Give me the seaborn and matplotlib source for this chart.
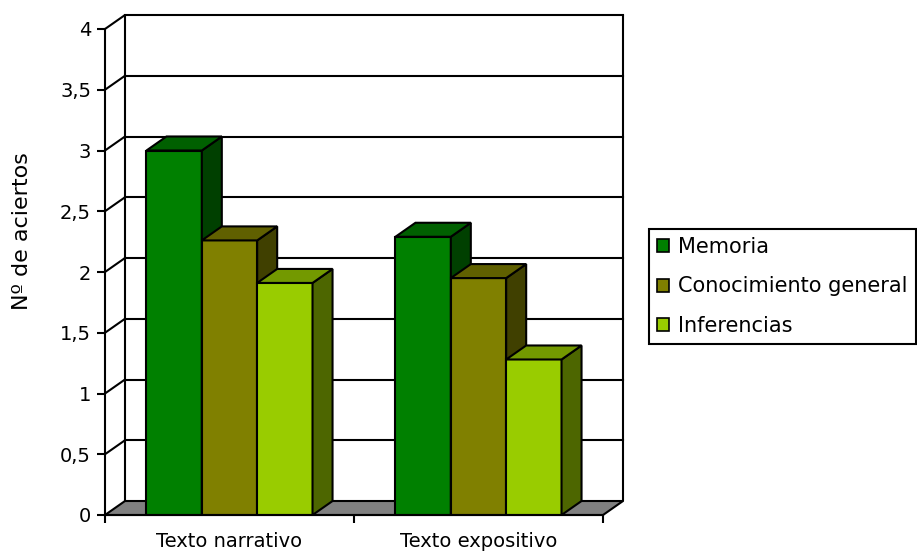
import numpy as np
import pandas as pd
import matplotlib
matplotlib.use("Agg")
import matplotlib.pyplot as plt
import seaborn as sns
from matplotlib.patches import Polygon, Patch

# Data
categories = ["Texto narrativo", "Texto expositivo"]
series = ["Memoria", "Conocimiento general", "Inferencias"]
memoria = [3.0, 2.29]
conocimiento = [2.26, 1.95]
inferencias = [1.91, 1.28]
y_ticks = [0, 0.5, 1, 1.5, 2, 2.5, 3, 3.5, 4]
y_tick_labels = ["0", "0,5", "1", "1,5", "2", "2,5", "3", "3,5", "4"]

# Face shading for the pseudo-3D columns: front, top, right side
front_colors = ["#008000", "#808000", "#99CC00"]
top_colors = ["#006000", "#606000", "#739900"]
side_colors = ["#004000", "#404000", "#4D6600"]

df = pd.DataFrame({
    "categoria": categories * len(series),
    "serie": np.repeat(series, len(categories)),
    "valor": memoria + conocimiento + inferencias,
})

sns.set_theme(style="white")
plt.rcParams["font.family"] = ["DejaVu Sans"]
plt.rcParams["text.color"] = "black"

W, H, DPI = 917, 554, 100
LW = 1.5
fig = plt.figure(figsize=(W / DPI, H / DPI), dpi=DPI)
ax = fig.add_axes([105 / W, 1 - 515 / H, 498 / W, 486 / H])

sns.barplot(data=df, x="categoria", y="valor", hue="serie",
            order=categories, hue_order=series, palette=front_colors,
            width=0.667, saturation=1, edgecolor="black", linewidth=LW,
            legend=False, ax=ax)

ax.set_xlim(-0.5, len(categories) - 0.5)
ax.set_ylim(0, 4)

# depth offset of the 3D box, expressed in data units
inv = ax.transData.inverted()
p0 = inv.transform((0, 0))
p1 = inv.transform((20, 14))
dx, dy = p1[0] - p0[0], p1[1] - p0[1]
xl, xr = ax.get_xlim()

# floor
floor = Polygon([(xl, 0), (xr, 0), (xr + dx, dy), (xl + dx, dy)],
                closed=True, facecolor="#808080", edgecolor="black",
                linewidth=LW, zorder=2, clip_on=False)
ax.add_patch(floor)

# back wall gridlines and left wall slants
for v in y_ticks[1:]:
    ax.plot([xl + dx, xr + dx], [v + dy, v + dy], color="black", lw=LW,
            zorder=1, clip_on=False, solid_capstyle="projecting")
    ax.plot([xl, xl + dx], [v, v + dy], color="black", lw=LW,
            zorder=1, clip_on=False)
for xv in (xl + dx, xr + dx):
    ax.plot([xv, xv], [dy, 4 + dy], color="black", lw=LW, zorder=1,
            clip_on=False)

# tops and sides of each column
bars = []
for p in ax.patches:
    if p is floor:
        continue
    fc = matplotlib.colors.to_hex(p.get_facecolor())
    idx = [c.lower() for c in front_colors].index(fc.lower())
    bars.append((p.get_x(), p.get_width(), p.get_height(), idx, p))
bars.sort(key=lambda b: b[0])
for k, (x0, w, h, idx, p) in enumerate(bars):
    z = 10 + k
    p.set_zorder(z)
    x1 = x0 + w
    top = Polygon([(x0, h), (x1, h), (x1 + dx, h + dy), (x0 + dx, h + dy)],
                  closed=True, facecolor=top_colors[idx], edgecolor="black",
                  linewidth=LW, zorder=z, clip_on=False,
                  joinstyle="miter")
    side = Polygon([(x1, 0), (x1, h), (x1 + dx, h + dy), (x1 + dx, dy)],
                   closed=True, facecolor=side_colors[idx], edgecolor="black",
                   linewidth=LW, zorder=z, clip_on=False)
    ax.add_patch(side)
    ax.add_patch(top)

# axes, ticks and labels
for s in ("top", "right"):
    ax.spines[s].set_visible(False)
for s in ("left", "bottom"):
    ax.spines[s].set_color("black")
    ax.spines[s].set_linewidth(LW)
    ax.spines[s].set_zorder(30)

ax.set_yticks(y_ticks)
ax.set_yticklabels(y_tick_labels, fontsize=14)
ax.tick_params(axis="y", direction="out", length=6, width=LW, color="black",
               pad=4, left=True, labelcolor="black")
ax.set_xticks(np.arange(-0.5, len(categories), 1.0))
ax.set_xticklabels([])
ax.tick_params(axis="x", which="major", direction="out", length=6, width=LW,
               color="black", bottom=True)
ax.set_xticks(range(len(categories)), minor=True)
ax.set_xticklabels(categories, minor=True, fontsize=14)
ax.tick_params(axis="x", which="minor", length=0, pad=12, labelcolor="black")
ax.set_xlabel("")
ax.set_ylabel("")
ax.grid(False)

fig.text(22 / W, 1 - 231 / H, "Nº de aciertos", rotation=90,
         ha="center", va="center", fontsize=16, color="black")

handles = [Patch(facecolor=c, edgecolor="black", linewidth=1.2)
           for c in front_colors]
leg = fig.legend(handles, series, loc="upper left",
                 bbox_to_anchor=(649 / W, 1 - 229 / H),
                 bbox_transform=fig.transFigure, frameon=True, fancybox=False,
                 edgecolor="black", framealpha=1, fontsize=15,
                 handlelength=0.58, handleheight=0.58, handletextpad=0.4,
                 labelspacing=0.92, borderpad=0.4, borderaxespad=0,
                 labelcolor="black")
leg.get_frame().set_linewidth(LW)

fig.savefig("out.png", dpi=DPI, facecolor="white")
